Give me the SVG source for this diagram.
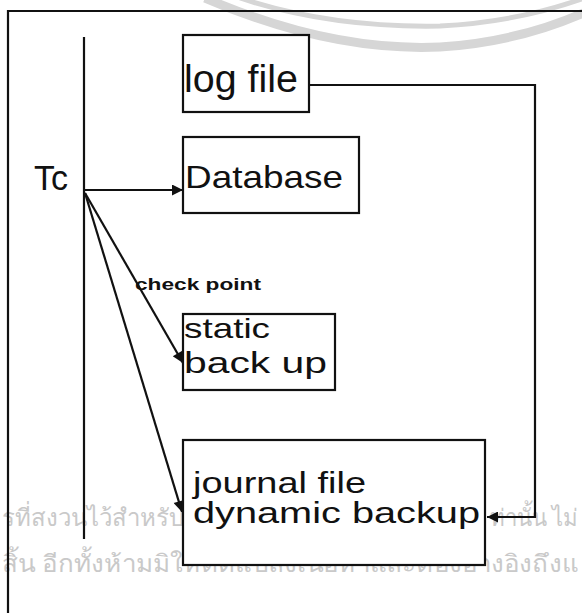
<svg xmlns="http://www.w3.org/2000/svg" width="582" height="613" viewBox="0 0 582 613">
<defs>
<style>
.box{fill:#fff;stroke:#111;stroke-width:2.2}
.ln{fill:none;stroke:#111;stroke-width:2.2}
.t{font-family:"Liberation Sans","DejaVu Sans",sans-serif;fill:#111}
.wm{font-family:"Noto Sans","DejaVu Sans",sans-serif;fill:#c9c9c9}
.arc{fill:none;stroke:#d6d6d6}
</style>
<marker id="ah" viewBox="0 0 10 10" refX="10" refY="5" markerWidth="6" markerHeight="5" orient="auto" markerUnits="strokeWidth">
<path d="M0 0 L10 5 L0 10 z" fill="#111"/>
</marker>
</defs>
<rect width="582" height="613" fill="#fff"/>
<g id="watermark">
<path class="arc" stroke-width="9" d="M 205 -2 Q 330 52 440 47 Q 520 42 590 10"/>
<path class="arc" stroke-width="5" d="M 240 -2 Q 330 28 440 26 Q 520 22 590 -4"/>
<text class="wm" x="2" y="526" font-size="24">รที่สงวนไว้สำหรับ</text>
<text class="wm" x="490" y="526" font-size="24" textLength="88" lengthAdjust="spacingAndGlyphs">ท่านั้น ไม่</text>
<text class="wm" x="2" y="572" font-size="24" textLength="576" lengthAdjust="spacingAndGlyphs">สิ้น อีกทั้งห้ามมิให้ตัดแปลงเนื้อหาและต้องอ้างอิงถึงแ</text>
</g>
<g id="frame">
<path class="ln" stroke-width="2.6" d="M 8 613 L 8 11 L 582 11"/>
</g>
<g id="timeline">
<line class="ln" x1="84" y1="37" x2="84" y2="539"/>
<text class="t" x="34" y="190" font-size="35" textLength="34" lengthAdjust="spacingAndGlyphs">Tc</text>
</g>
<g id="connectors">
<path class="ln" d="M 309 85 L 535 85 L 535 517 L 487 517" marker-end="url(#ah)"/>
<line class="ln" x1="84" y1="190" x2="183" y2="190" marker-end="url(#ah)"/>
<line class="ln" x1="85" y1="193" x2="183" y2="363" marker-end="url(#ah)"/>
<line class="ln" x1="85" y1="193" x2="182" y2="512" marker-end="url(#ah)"/>
<text class="t" x="135" y="290" font-size="17" font-weight="bold" textLength="126" lengthAdjust="spacingAndGlyphs">check point</text>
</g>
<g id="log-file">
<rect class="box" x="183" y="35" width="126" height="77"/>
<text class="t" x="184" y="92" font-size="38" textLength="114" lengthAdjust="spacingAndGlyphs">log file</text>
</g>
<g id="database">
<rect class="box" x="183" y="137" width="176" height="76"/>
<text class="t" x="185" y="188" font-size="32" textLength="158" lengthAdjust="spacingAndGlyphs">Database</text>
</g>
<g id="static-backup">
<rect class="box" x="183" y="314" width="152" height="76"/>
<text class="t" x="184" y="338" font-size="28" textLength="86" lengthAdjust="spacingAndGlyphs">static</text>
<text class="t" x="184" y="373" font-size="30" textLength="143" lengthAdjust="spacingAndGlyphs">back up</text>
</g>
<g id="journal-file">
<rect class="box" x="183" y="440" width="302" height="125"/>
<text class="t" x="193" y="493" font-size="30" textLength="173" lengthAdjust="spacingAndGlyphs">journal file</text>
<text class="t" x="193" y="523" font-size="30" textLength="287" lengthAdjust="spacingAndGlyphs">dynamic backup</text>
</g>
</svg>
